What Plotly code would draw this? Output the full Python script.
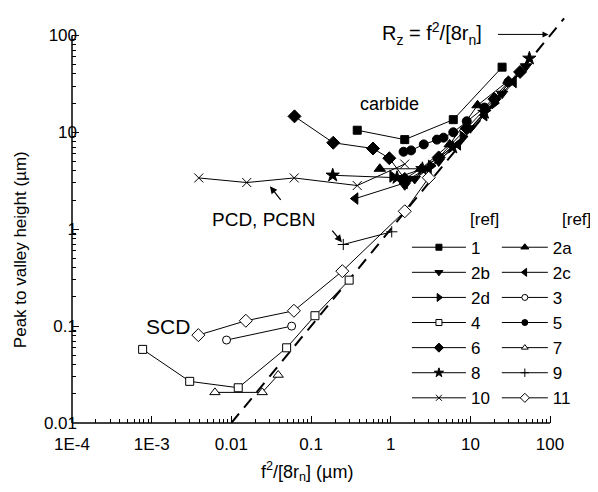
import plotly.graph_objects as go

# series data: f^2/[8rn] (um) vs peak to valley height (um)
x_1 = [0.38, 1.5, 6.1, 25]
y_1 = [10.5, 8.4, 13.5, 47]
x_2a = [0.73, 2.4, 5.5, 12.3, 30]
y_2a = [4.2, 4.2, 7.5, 19, 34]
x_2b = [1.5, 2.0, 4.0, 10, 25, 50]
y_2b = [2.84, 3.3, 5.0, 11, 25, 48]
x_2c = [0.36, 1.5, 3.0, 7.0, 15, 35]
y_2c = [2.07, 3.0, 4.2, 7.5, 15, 33]
x_2d = [1.05, 1.6, 3.2, 8.0, 20]
y_2d = [3.5, 3.2, 4.5, 9.0, 20]
x_3 = [0.0087, 0.0571]
y_3 = [0.0718, 0.100]
x_4 = [7.7e-4, 0.0030, 0.0122, 0.0494, 0.112, 0.301]
y_4 = [0.0575, 0.0269, 0.0231, 0.0597, 0.128, 0.298]
x_5 = [1.45, 1.8, 2.6, 3.8, 4.6, 6.1, 9.0, 15, 30]
y_5 = [6.3, 6.5, 7.5, 8.4, 8.8, 10, 13, 18, 33]
x_6 = [0.062, 0.19, 0.6, 0.96, 1.5, 4.0, 9.0, 20, 42]
y_6 = [14.6, 7.8, 6.8, 5.4, 3.3, 5.5, 11, 22, 42]
x_7 = [0.00622, 0.0244, 0.0387]
y_7 = [0.0207, 0.0207, 0.0313]
x_8 = [0.187, 1.2, 2.5, 6.0, 15, 55]
y_8 = [3.6, 3.4, 4.2, 7.0, 16, 58]
x_9 = [0.254, 1.03]
y_9 = [0.695, 0.94]
x_10 = [0.0039, 0.0156, 0.0615, 0.38, 1.5]
y_10 = [3.38, 3.03, 3.38, 2.82, 4.7]
x_11 = [0.00385, 0.0152, 0.061, 0.247, 1.5, 3.0]
y_11 = [0.0807, 0.1135, 0.144, 0.369, 1.53, 3.4]

# Rz = f^2/[8rn] line
ideal_x = [0.01, 150]

x_tick_vals = [1e-4, 1e-3, 1e-2, 1e-1, 1, 10, 100]
x_tick_text = ["1E-4", "1E-3", "0.01", "0.1", "1", "10", "100"]
y_tick_vals = [0.01, 0.1, 1, 10, 100]
y_tick_text = ["0.01", "0.1", "1", "10", "100"]

FONT = "Arial, Liberation Sans, sans-serif"

# name, x, y, symbol, fill, size, legend column
series = [
    ("1", x_1, y_1, "square", "black", 8, 1),
    ("2a", x_2a, y_2a, "triangle-up", "black", 10, 2),
    ("2b", x_2b, y_2b, "triangle-down", "black", 10, 1),
    ("2c", x_2c, y_2c, "triangle-left", "black", 10, 2),
    ("2d", x_2d, y_2d, "triangle-right", "black", 10, 1),
    ("3", x_3, y_3, "circle", "white", 8, 2),
    ("4", x_4, y_4, "square", "white", 8, 1),
    ("5", x_5, y_5, "circle", "black", 9, 2),
    ("6", x_6, y_6, "diamond", "black", 10, 1),
    ("7", x_7, y_7, "triangle-up", "white", 9, 2),
    ("8", x_8, y_8, "star", "black", 10, 1),
    ("9", x_9, y_9, "cross-thin", "black", 8, 2),
    ("10", x_10, y_10, "x-thin", "black", 9, 1),
    ("11", x_11, y_11, "diamond", "white", 10, 2),
]

fig = go.Figure()

fig.add_trace(go.Scatter(x=ideal_x, y=ideal_x, mode="lines", showlegend=False,
                         line=dict(color="black", width=2, dash="12px,8px")))

for name, xs, ys, symbol, fill, size, col in series:
    marker = dict(symbol=symbol, size=size, color=fill,
                  line=dict(color="black", width=1))
    fig.add_trace(go.Scatter(x=xs, y=ys, mode="lines+markers", showlegend=False,
                             line=dict(color="black", width=1), marker=marker))
    # legend-only entry with smaller symbol
    leg_marker = dict(marker, size=max(size - 3, 6))
    fig.add_trace(go.Scatter(x=[None], y=[None], mode="lines+markers", name=name,
                             legendgroup=name,
                             legend="legend" if col == 1 else "legend2",
                             line=dict(color="black", width=1), marker=leg_marker))

axis_font = dict(family=FONT, size=17, color="black")
# page body adds an 8px offset, so the figure is 8px smaller than the window
fig.update_layout(
    width=590, height=484,
    margin=dict(l=64, r=32, t=8, b=69),
    plot_bgcolor="white", paper_bgcolor="white",
    font=dict(family=FONT, size=17, color="black"),
    xaxis=dict(type="log", range=[-4, 2.2], showgrid=False, zeroline=False,
               showline=False, tickmode="array", tickvals=x_tick_vals,
               ticktext=x_tick_text, ticks="inside", ticklen=7, tickwidth=1,
               tickcolor="black", tickfont=axis_font, ticklabelstandoff=9,
               minor=dict(tickmode="array", ticks="inside", ticklen=4,
                          tickcolor="black",
                          tickvals=[m * 10 ** e for e in range(-4, 2) for m in range(2, 10)])),
    yaxis=dict(type="log", range=[-2, 2.2], showgrid=False, zeroline=False,
               showline=False, tickmode="array", tickvals=y_tick_vals,
               ticktext=y_tick_text, ticks="inside", ticklen=7, tickwidth=1,
               tickcolor="black", tickfont=axis_font, ticklabelstandoff=-6,
               minor=dict(tickmode="array", ticks="inside", ticklen=4,
                          tickcolor="black",
                          tickvals=[m * 10 ** e for e in range(-2, 2) for m in range(2, 10)])),
    legend=dict(x=0.678, y=0.475, xanchor="left", yanchor="top", bgcolor="rgba(0,0,0,0)",
                itemwidth=54, tracegroupgap=0, font=dict(family=FONT, size=17)),
    legend2=dict(x=0.860, y=0.475, xanchor="left", yanchor="top", bgcolor="rgba(0,0,0,0)",
                 itemwidth=46, tracegroupgap=0, font=dict(family=FONT, size=17)),
)

# axis lines stop at 100 on both axes
x_end = 6 / 6.2
y_end = 4 / 4.2
fig.add_shape(type="line", xref="paper", yref="paper", x0=0, x1=x_end, y0=0, y1=0,
              line=dict(color="black", width=1.5))
fig.add_shape(type="line", xref="paper", yref="paper", x0=0, x1=0, y0=0, y1=y_end,
              line=dict(color="black", width=1.5))

# axis titles
fig.add_annotation(xref="paper", yref="paper", x=0.476, y=-0.12, showarrow=False,
                   xanchor="center", yanchor="middle",
                   text="f<sup>2</sup>/[8r<sub>n</sub>] (\u00b5m)", font=dict(size=18))
fig.add_annotation(xref="paper", yref="paper", x=-0.105, y=0.425, showarrow=False,
                   xanchor="center", yanchor="middle",
                   text="Peak to valley height (\u00b5m)", textangle=-90, font=dict(size=17))

# text labels (log coordinates)
fig.add_annotation(x=0.515, y=2.02, showarrow=False,
                   text="R<sub>z</sub> = f<sup>2</sup>/[8r<sub>n</sub>]", font=dict(size=20))
fig.add_annotation(x=1.98, y=2.01, text="", showarrow=True, ax=-52, ay=0,
                   arrowhead=2, arrowsize=1.2, arrowwidth=1, arrowcolor="black")
fig.add_annotation(x=-0.01, y=1.289, showarrow=False, text="carbide", font=dict(size=18))
fig.add_annotation(x=-1.591, y=0.103, showarrow=False, text="PCD, PCBN", font=dict(size=19))
fig.add_annotation(x=-1.516, y=0.443, text="", showarrow=True, ax=12, ay=15,
                   arrowhead=2, arrowsize=1.2, arrowwidth=1.2, arrowcolor="black")
fig.add_annotation(x=-0.612, y=-0.134, text="", showarrow=True, ax=-11, ay=-13,
                   arrowhead=2, arrowsize=1.2, arrowwidth=1.2, arrowcolor="black")
fig.add_annotation(x=-2.795, y=-1.0, showarrow=False, text="SCD", font=dict(size=21))

# legend column headers
fig.add_annotation(xref="paper", yref="paper", x=0.836, y=0.499, showarrow=False,
                   xanchor="center", yanchor="middle", text="[ref]", font=dict(size=17))
fig.add_annotation(xref="paper", yref="paper", x=1.022, y=0.499, showarrow=False,
                   xanchor="center", yanchor="middle", text="[ref]", font=dict(size=17))

fig.write_html("out.html")
